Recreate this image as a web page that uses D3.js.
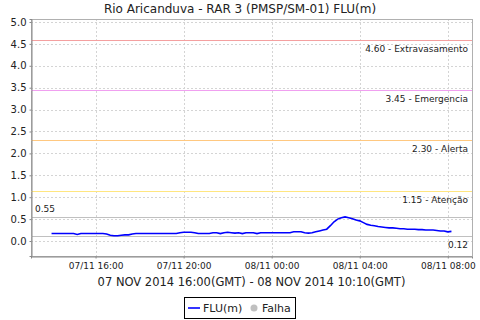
<!DOCTYPE html>
<meta charset="utf-8">
<script src="https://d3js.org/d3.v7.min.js"></script>
<style>
    body {margin:0; background:#fff; font-family:'DejaVu Sans', sans-serif;}
</style>
<body>
<svg width="480" height="320"></svg>
<script>
    // readings every 10 minutes, local time, 07/11 14:00 -> 08/11 08:10
    const startTime = "2014-11-07T14:00:00Z";
    const stepMinutes = 10;
    const levels = [
        0.17,0.17,0.17,0.17,0.17,0.17,0.17,0.15,0.17,0.17,
        0.17,0.17,0.17,0.17,0.17,0.16,0.13,0.12,0.12,0.13,
        0.14,0.14,0.16,0.17,0.17,0.17,0.17,0.17,0.17,0.17,
        0.17,0.17,0.17,0.17,0.17,0.19,0.20,0.20,0.20,0.19,
        0.17,0.17,0.17,0.17,0.19,0.19,0.17,0.19,0.20,0.19,
        0.18,0.19,0.17,0.19,0.19,0.19,0.17,0.19,0.19,0.19,
        0.19,0.19,0.19,0.19,0.19,0.19,0.21,0.21,0.21,0.19,
        0.18,0.19,0.21,0.23,0.25,0.27,0.35,0.44,0.50,0.53,
        0.55,0.53,0.51,0.48,0.46,0.42,0.38,0.36,0.35,0.33,
        0.32,0.31,0.30,0.30,0.29,0.28,0.28,0.27,0.27,0.27,
        0.26,0.26,0.25,0.25,0.25,0.24,0.23,0.23,0.21,0.22
    ];
    const yTicks = [0,0.5,1,1.5,2,2.5,3,3.5,4,4.5,5];
    const thresholds = [
        {value:4.60, label:"4.60 - Extravasamento", color:"#f4a0a0"},
        {value:3.45, label:"3.45 - Emergencia", color:"#f0a0f0"},
        {value:2.30, label:"2.30 - Alerta", color:"#ffc880"},
        {value:1.15, label:"1.15 - Atenção", color:"#ffe680"}
    ];
    const maxLevel = 0.55, minLevel = 0.12;

    const t0 = new Date(startTime);
    const data = levels.map(function(v, i){
        return {t: new Date(t0.getTime() + i*stepMinutes*60000), v: v};
    });

    const svg = d3.select("svg");
    const pLeft = 31, pRight = 472, pTop = 19, pBottom = 256;

    const x = d3.scaleUtc()
        .domain([new Date(+data[0].t - 56*60000), new Date(+data[data.length-1].t + 56*60000)])
        .range([pLeft, pRight]);
    const y = d3.scaleLinear().domain([-0.342, 5.068]).range([pBottom, pTop]);

    // title
    svg.append("text").attr("x", 240).attr("y", 13)
        .attr("text-anchor","middle").style("font-size","12px").attr("fill","#222")
        .text("Rio Aricanduva - RAR 3 (PMSP/SM-01) FLU(m)");

    // grid
    const grid = svg.append("g").attr("stroke","#d4d4d4").attr("stroke-dasharray","2,2").attr("stroke-width",1);
    grid.selectAll(".gy").data(yTicks).enter().append("line")
        .attr("x1", pLeft).attr("x2", pRight)
        .attr("y1", d => Math.round(y(d))+0.5).attr("y2", d => Math.round(y(d))+0.5);
    const xTicks = x.ticks(d3.utcHour.every(4));
    grid.selectAll(".gx").data(xTicks).enter().append("line")
        .attr("y1", pTop).attr("y2", pBottom)
        .attr("x1", d => Math.round(x(d))+0.5).attr("x2", d => Math.round(x(d))+0.5);

    // plot outline
    svg.append("rect").attr("x", pLeft+0.5).attr("y", pTop+0.5)
        .attr("width", pRight-pLeft).attr("height", pBottom-pTop)
        .attr("fill","none").attr("stroke","#b0b0b0");

    // threshold lines
    thresholds.forEach(function(d){
        const yy = Math.round(y(d.value))+0.5;
        svg.append("line").attr("x1", pLeft).attr("x2", pRight).attr("y1", yy).attr("y2", yy)
            .attr("stroke", d.color).attr("stroke-width", 1.2);
        svg.append("text").attr("x", 468).attr("y", yy+11)
            .attr("text-anchor","end").style("font-size","9px").attr("fill","#222")
            .text(d.label);
    });
    // max / min lines
    [maxLevel, minLevel].forEach(function(v){
        const yy = Math.round(y(v))+0.5;
        svg.append("line").attr("x1", pLeft).attr("x2", pRight).attr("y1", yy).attr("y2", yy)
            .attr("stroke","#c0c0c0").attr("stroke-width",1.2);
    });
    svg.append("text").attr("x", 35).attr("y", Math.round(y(maxLevel))-5)
        .style("font-size","9px").attr("fill","#222").text(maxLevel.toFixed(2));
    svg.append("text").attr("x", 468).attr("y", Math.round(y(minLevel))+12)
        .attr("text-anchor","end").style("font-size","9px").attr("fill","#222").text(minLevel.toFixed(2));

    // series
    const line = d3.line().x(d => x(d.t)).y(d => y(d.v));
    svg.append("path").datum(data)
        .attr("fill","none").attr("stroke","#0000ff").attr("stroke-width",1.6)
        .attr("d", line);

    // axes
    const yAxis = svg.append("g").attr("transform","translate(" + (pLeft+0.5) + ",0)")
        .call(d3.axisLeft(y).tickValues(yTicks).tickFormat(d3.format(".1f")).tickSize(2).tickPadding(3));
    yAxis.select(".domain").attr("stroke","#888");
    yAxis.selectAll(".tick line").attr("stroke","#888");
    yAxis.selectAll("text").style("font-size","10px").style("font-family","'DejaVu Sans'").attr("fill","#222");

    const xAxis = svg.append("g").attr("transform","translate(0," + (pBottom+0.5) + ")")
        .call(d3.axisBottom(x).tickValues(xTicks).tickFormat(d3.utcFormat("%d/%m %H:%M")).tickSize(2).tickPadding(4));
    xAxis.select(".domain").attr("stroke","#888");
    xAxis.selectAll(".tick line").attr("stroke","#888");
    xAxis.selectAll("text").style("font-size","9px").style("font-family","'DejaVu Sans'").attr("fill","#222");

    svg.append("text").attr("x", (pLeft+pRight)/2).attr("y", 286)
        .attr("text-anchor","middle").style("font-size","11.5px").attr("fill","#222")
        .text("07 NOV 2014 16:00(GMT) - 08 NOV 2014 10:10(GMT)");

    // legend
    const lg = svg.append("g");
    lg.append("rect").attr("x",184.5).attr("y",297.5).attr("width",111).attr("height",21)
        .attr("fill","#fff").attr("stroke","#000");
    lg.append("line").attr("x1",188).attr("x2",200).attr("y1",308).attr("y2",308)
        .attr("stroke","#0000ff").attr("stroke-width",1.6);
    lg.append("text").attr("x",203).attr("y",312).style("font-size","11px").attr("fill","#222").text("FLU(m)");
    lg.append("circle").attr("cx",254).attr("cy",308).attr("r",3.5).attr("fill","#c0c0c0");
    lg.append("text").attr("x",262).attr("y",312).style("font-size","11px").attr("fill","#222").text("Falha");
</script>
</body>
